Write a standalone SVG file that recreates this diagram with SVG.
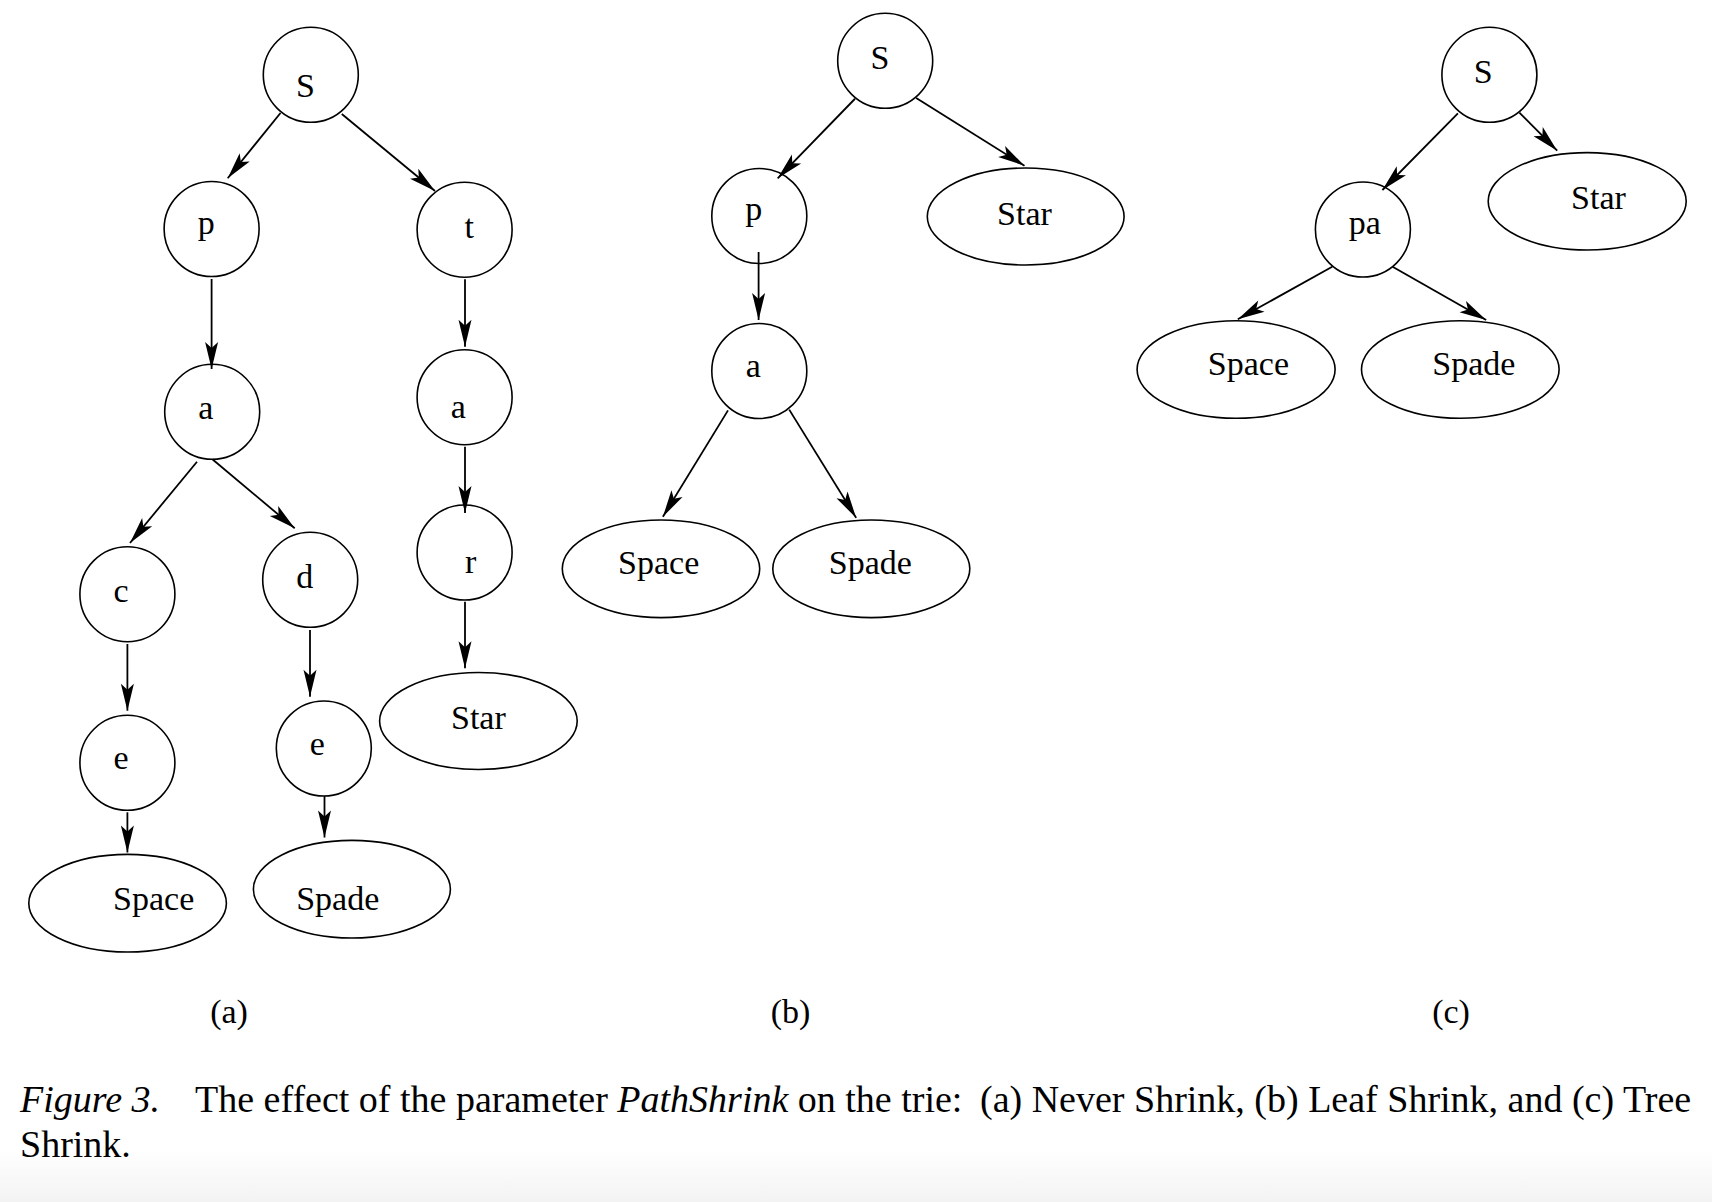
<svg xmlns="http://www.w3.org/2000/svg" width="1712" height="1202" viewBox="0 0 1712 1202">
<style>
.n{fill:none;stroke:#000;stroke-width:1.6}
.l{font-family:"Liberation Serif","Times New Roman",serif;font-size:34px;fill:#000;text-anchor:middle}
.e{fill:none;stroke:#000;stroke-width:1.8;marker-end:url(#ah)}
.cap{font-family:"Liberation Serif","Times New Roman",serif;font-size:38px;fill:#000}
.it{font-style:italic}
</style>
<defs>
<marker id="ah" markerUnits="userSpaceOnUse" viewBox="-28 -8 30 16" refX="0" refY="0" markerWidth="30" markerHeight="16" orient="auto">
<path d="M0,0 L-27,-6.5 L-21,0 L-27,6.5 Z" fill="#000"/>
</marker>
<linearGradient id="bg" x1="0" y1="0" x2="0" y2="1">
<stop offset="0" stop-color="#fff"/>
<stop offset="1" stop-color="#f3f3f3"/>
</linearGradient>
</defs>
<rect x="0" y="0" width="1712" height="1202" fill="#fff"/>
<rect x="0" y="1150" width="1712" height="52" fill="url(#bg)"/>

<g id="connectors">
<!-- (a) -->
<path class="e" d="M280.5,113 L227.7,178.3"/>
<path class="e" d="M341.8,114 L435,191"/>
<path class="e" d="M211.6,279 L211.6,369"/>
<path class="e" d="M465,279.3 L465,346.7"/>
<path class="e" d="M197,461.7 L130,543"/>
<path class="e" d="M212.4,459.3 L294.7,528.3"/>
<path class="e" d="M465,446.7 L465,513"/>
<path class="e" d="M465,601.7 L465,668.3"/>
<path class="e" d="M127.4,644 L127.4,710.7"/>
<path class="e" d="M310,630 L310,696.7"/>
<path class="e" d="M127.4,812.3 L127.4,852.5"/>
<path class="e" d="M324.5,796 L324.5,837.5"/>
<!-- (b) -->
<path class="e" d="M855,98.75 L777.7,178.3"/>
<path class="e" d="M916.2,97.9 L1024.5,165.8"/>
<path class="e" d="M758.6,252 L758.6,320"/>
<path class="e" d="M728,410.4 L662.9,516.7"/>
<path class="e" d="M789.2,409.6 L856.2,517.9"/>
<!-- (c) -->
<path class="e" d="M1457.9,113.3 L1382.4,190"/>
<path class="e" d="M1519.4,112.7 L1557.2,150.7"/>
<path class="e" d="M1332.2,266.7 L1237.8,319.3"/>
<path class="e" d="M1392.6,266.7 L1486.2,320"/>
</g>

<!-- (a) Never Shrink -->
<g id="a_S"><circle class="n" cx="310.8" cy="74.8" r="47.5"/><text class="l" x="305.5" y="96.5">S</text></g>
<g id="a_p"><circle class="n" cx="211.6" cy="229" r="47.5"/><text class="l" x="206.3" y="233.5">p</text></g>
<g id="a_t"><circle class="n" cx="464.6" cy="229.7" r="47.5"/><text class="l" x="469.2" y="237.5">t</text></g>
<g id="a_a1"><circle class="n" cx="212.2" cy="411.8" r="47.5"/><text class="l" x="205.9" y="419">a</text></g>
<g id="a_a2"><circle class="n" cx="464.6" cy="397.2" r="47.5"/><text class="l" x="458.3" y="418">a</text></g>
<g id="a_c"><circle class="n" cx="127.4" cy="594.2" r="47.5"/><text class="l" x="121.1" y="601.5">c</text></g>
<g id="a_d"><circle class="n" cx="310.2" cy="579.8" r="47.5"/><text class="l" x="304.8" y="587.5">d</text></g>
<g id="a_r"><circle class="n" cx="464.6" cy="552.5" r="47.5"/><text class="l" x="470.7" y="573">r</text></g>
<g id="a_e1"><circle class="n" cx="127.4" cy="762.8" r="47.5"/><text class="l" x="121.1" y="769">e</text></g>
<g id="a_e2"><circle class="n" cx="323.8" cy="748.5" r="47.5"/><text class="l" x="317.3" y="755">e</text></g>
<g id="a_Star"><ellipse class="n" cx="478.4" cy="721" rx="98.8" ry="48.5"/><text class="l" x="478.4" y="728.5">Star</text></g>
<g id="a_Space"><ellipse class="n" cx="127.6" cy="903.2" rx="98.8" ry="48.8"/><text class="l" x="153.7" y="909.5">Space</text></g>
<g id="a_Spade"><ellipse class="n" cx="351.9" cy="889.2" rx="98.5" ry="48.8"/><text class="l" x="337.7" y="909.5">Spade</text></g>

<!-- (b) Leaf Shrink -->
<g id="b_S"><circle class="n" cx="885.2" cy="60.8" r="47.5"/><text class="l" x="880" y="68.5">S</text></g>
<g id="b_p"><circle class="n" cx="759.3" cy="216" r="47.5"/><text class="l" x="753.8" y="220">p</text></g>
<g id="b_a"><circle class="n" cx="759.3" cy="371" r="47.5"/><text class="l" x="753.4" y="377">a</text></g>
<g id="b_Star"><ellipse class="n" cx="1025.7" cy="216.5" rx="98.4" ry="48.5"/><text class="l" x="1024.5" y="224.5">Star</text></g>
<g id="b_Space"><ellipse class="n" cx="661" cy="568.8" rx="98.7" ry="48.8"/><text class="l" x="658.7" y="574">Space</text></g>
<g id="b_Spade"><ellipse class="n" cx="871.3" cy="568.8" rx="98.5" ry="48.8"/><text class="l" x="870.3" y="574">Spade</text></g>

<!-- (c) Tree Shrink -->
<g id="c_S"><circle class="n" cx="1489.4" cy="74.8" r="47.5"/><text class="l" x="1483.3" y="83">S</text></g>
<g id="c_pa"><circle class="n" cx="1362.9" cy="229.5" r="47.5"/><text class="l" x="1364.8" y="234">pa</text></g>
<g id="c_Star"><ellipse class="n" cx="1587.2" cy="201.3" rx="99" ry="48.7"/><text class="l" x="1598.5" y="208.5">Star</text></g>
<g id="c_Space"><ellipse class="n" cx="1236.1" cy="369.5" rx="99" ry="48.8"/><text class="l" x="1248.4" y="375">Space</text></g>
<g id="c_Spade"><ellipse class="n" cx="1460.3" cy="369.5" rx="98.8" ry="48.8"/><text class="l" x="1473.9" y="375">Spade</text></g>

<g id="sublabels">
<text class="l" x="229" y="1023">(a)</text>
<text class="l" x="790.5" y="1023">(b)</text>
<text class="l" x="1451" y="1023">(c)</text>
</g>

<g id="caption">
<text class="cap" y="1111.5"><tspan class="it" x="20">Figure 3.</tspan><tspan x="195">The effect of the parameter </tspan><tspan class="it">PathShrink</tspan><tspan> on the trie:</tspan><tspan x="980">(a) Never Shrink, (b) Leaf Shrink, and (c) Tree</tspan></text>
<text class="cap" x="20" y="1157">Shrink.</text>
</g>
</svg>
